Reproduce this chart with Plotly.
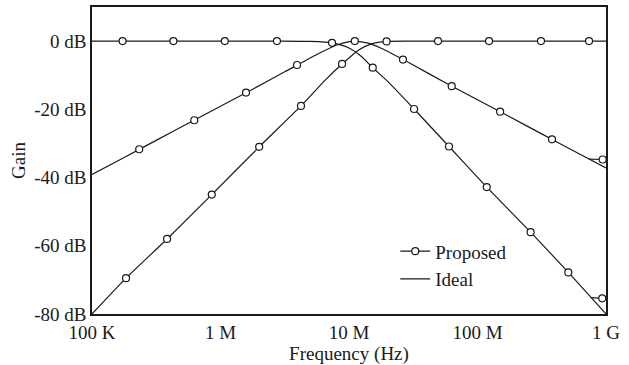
import plotly.graph_objects as go

# ---------------- data ----------------
# Proposed (simulated) points: frequency in Hz, gain in dB
lp_prop_f = [1.73e5, 4.30e5, 1.08e6, 2.75e6, 7.38e6, 1.53e7, 3.21e7, 6.0e7, 1.18e8, 2.59e8, 5.09e8, 9.35e8]
lp_prop_g = [0, 0, 0, 0, -0.5, -7.8, -19.9, -30.9, -42.8, -56.0, -67.8, -75.4]

hp_prop_f = [1.84e5, 3.84e5, 8.55e5, 2.0e6, 4.23e6, 8.83e6, 1.96e7, 4.93e7, 1.23e8, 3.12e8, 7.38e8]
hp_prop_g = [-69.5, -58.0, -45.0, -31.0, -19.0, -6.7, -0.1, 0, 0, 0, 0]

bp_prop_f = [2.33e5, 6.25e5, 1.58e6, 3.94e6, 1.11e7, 2.63e7, 6.3e7, 1.5e8, 3.8e8, 9.42e8]
bp_prop_g = [-31.7, -23.2, -15.1, -7.0, 0, -5.4, -13.2, -20.7, -28.8, -34.7]

# Where the proposed curves leave the ideal ones near 1 GHz
lp_tail_f = [7.6e8, 9.35e8]
lp_tail_g = [-75.2, -75.4]
bp_tail_f = [7.4e8, 9.42e8]
bp_tail_g = [-34.6, -34.7]

# Ideal responses
lp_ideal_f = [1e5, 1e6, 3e6, 5e6, 7.38e6, 1e7, 1.25e7, 1.53e7, 2e7, 3.21e7, 6e7, 1.18e8, 2.59e8, 5.09e8, 1e9]
lp_ideal_g = [0, 0, 0, -0.1, -0.5, -2.0, -4.5, -7.8, -11.8, -19.9, -30.9, -42.8, -56.0, -67.8, -80.0]

hp_ideal_f = [1e5, 1.84e5, 3.84e5, 8.55e5, 2e6, 4.23e6, 6.5e6, 8.83e6, 1.2e7, 1.5e7, 1.96e7, 3e7, 1e8, 1e9]
hp_ideal_g = [-80.0, -69.5, -58.0, -45.0, -31.0, -19.0, -11.5, -6.7, -2.5, -0.8, -0.1, 0, 0, 0]

bp_ideal_f = [1e5, 1.78e5, 3.16e5, 5.62e5, 1e6, 1.78e6, 3.16e6, 5.62e6, 7.94e6, 1e7, 1.12e7,
              1.41e7, 1.78e7, 3.16e7, 5.62e7, 1e8, 1.78e8, 3.16e8, 5.62e8, 1e9]
bp_ideal_g = [-39.1, -34.1, -29.1, -24.1, -19.1, -14.1, -9.0, -3.9, -1.2, -0.13, 0,
              -0.6, -2.1, -7.0, -12.2, -17.2, -22.2, -27.2, -32.2, -37.2]

x_tickvals = [1e5, 1e6, 1e7, 1e8, 1e9]
x_ticktext = ["100 K", "1 M", "10 M", "100 M", "1 G"]
y_tickvals = [0, -20, -40, -60, -80]
y_ticktext = ["0 dB", "-20 dB", "-40 dB", "-60 dB", "-80 dB"]

FONT = "Liberation Serif, Times New Roman, serif"
FS = 19
INK = "#1a1a1a"
LW = 1.2

fig = go.Figure()

# ideal curves (solid lines)
for f, g in [(lp_ideal_f, lp_ideal_g), (hp_ideal_f, hp_ideal_g), (bp_ideal_f, bp_ideal_g)]:
    fig.add_trace(go.Scatter(
        x=f, y=g, mode="lines", name="Ideal",
        line=dict(color=INK, width=LW, shape="spline", smoothing=0.6),
        showlegend=False))

# proposed: short tails where it departs from the ideal curve
for f, g in [(lp_tail_f, lp_tail_g), (bp_tail_f, bp_tail_g)]:
    fig.add_trace(go.Scatter(x=f, y=g, mode="lines", line=dict(color=INK, width=LW),
                             showlegend=False, hoverinfo="skip"))

# proposed markers
marker = dict(symbol="circle", size=7, color="white", line=dict(color=INK, width=1.2))
for f, g in [(lp_prop_f, lp_prop_g), (hp_prop_f, hp_prop_g), (bp_prop_f, bp_prop_g)]:
    fig.add_trace(go.Scatter(x=f, y=g, mode="markers", name="Proposed",
                             marker=marker, showlegend=False))

# legend entries
fig.add_trace(go.Scatter(x=[None], y=[None], mode="lines+markers", name="Proposed",
                         line=dict(color=INK, width=LW), marker=marker))
fig.add_trace(go.Scatter(x=[None], y=[None], mode="lines", name="Ideal",
                         line=dict(color=INK, width=LW)))

fig.update_layout(
    width=629, height=365,
    margin=dict(l=92, r=23, t=5, b=51),
    paper_bgcolor="white", plot_bgcolor="white",
    font=dict(family=FONT, size=FS, color=INK),
    showlegend=True,
    legend=dict(x=0.59, y=0.266, xanchor="left", yanchor="top",
                bgcolor="rgba(0,0,0,0)", borderwidth=0,
                font=dict(family=FONT, size=FS, color=INK),
                tracegroupgap=0, itemwidth=30),
)
fig.update_xaxes(
    type="log", range=[5, 9],
    tickvals=x_tickvals, ticktext=x_ticktext,
    showgrid=False, zeroline=False, ticks="",
    showline=True, linecolor=INK, linewidth=1.5, mirror=True,
    title=dict(text="Frequency (Hz)", standoff=0, font=dict(family=FONT, size=FS)),
)
fig.update_yaxes(
    range=[-80, 10],
    tickvals=y_tickvals, ticktext=y_ticktext,
    showgrid=False, zeroline=False, ticks="",
    showline=True, linecolor=INK, linewidth=1.5, mirror=True,
    title=dict(text="Gain", standoff=4, font=dict(family=FONT, size=FS)),
)

fig.write_html("out.html")
